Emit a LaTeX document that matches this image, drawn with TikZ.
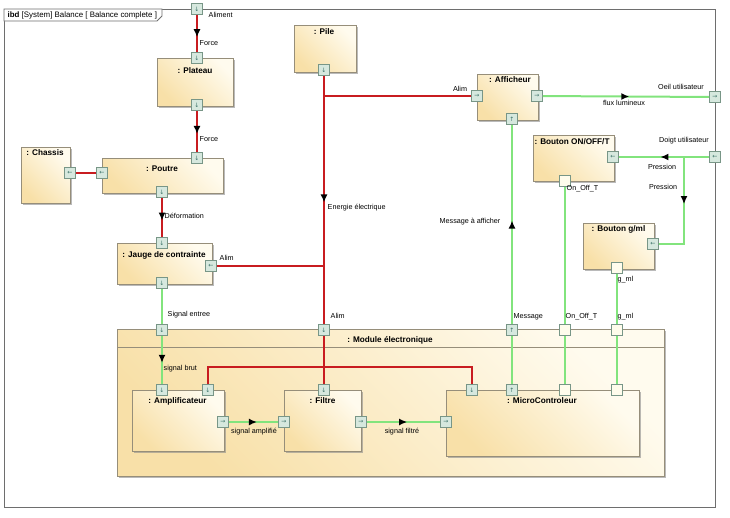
\documentclass[tikz,border=0pt]{standalone}
\usepackage{fontspec}
\setmainfont{Liberation Sans}
\newfontfamily\arrowfont{DejaVu Sans}
\usetikzlibrary{shadows,arrows.meta,decorations.markings}

\definecolor{powerred}{RGB}{200,28,32}
\definecolor{signalgreen}{RGB}{130,228,125}
\definecolor{blocklight}{RGB}{255,251,238}
\definecolor{blockdark}{RGB}{248,224,168}
\definecolor{blockline}{RGB}{150,142,122}
\definecolor{portfill}{RGB}{214,232,222}
\definecolor{portline}{RGB}{120,150,135}
\definecolor{portglyph}{RGB}{60,115,105}
\definecolor{plainport}{RGB}{255,252,236}
\definecolor{frameline}{RGB}{110,110,110}

\begin{document}
\begin{tikzpicture}[x=1pt,y=-1pt,
  lbl/.style={font=\fontsize{7.2}{8.5}\selectfont, inner sep=0.5pt},
  ttl/.style={font=\fontsize{8.2}{9.5}\selectfont\bfseries, inner sep=0pt},
  block/.style={draw=blockline, line width=0.7pt, inner sep=0pt,
    left color=blockdark, right color=blocklight, shading angle=135,
    drop shadow={shadow xshift=1.8pt, shadow yshift=-1.8pt, fill=black!45, opacity=0.6}},
  port/.style={draw=portline, fill=portfill, line width=0.6pt, minimum size=11pt,
    inner sep=0pt, font=\arrowfont\fontsize{6}{6}\selectfont, text=portglyph},
  plain/.style={port, fill=plainport},
  power/.style={draw=powerred, line width=2.3pt},
  sig/.style={draw=signalgreen, line width=2pt},
  flow/.style={postaction={decorate, decoration={markings,
    mark=at position #1 with {\arrow{Latex[length=8pt,width=7pt,color=black]}}}}}]
   \useasboundingbox (0,0) rectangle (730,517);
   % frame and tab
   \draw[frameline, line width=0.8pt] (4,9) rectangle (715,507);
   \draw[frameline, fill=white, line width=0.8pt] (4,9) -- (162,9) -- (162,16) -- (157,21) -- (4,21) -- cycle;
   \node[lbl, font=\fontsize{7.9}{9}\selectfont, anchor=west] (tab) at (7,15) {\textbf{ibd} [System] Balance [ Balance complete ]};
   % blocks
   \begin{scope}[every node/.append style={block}]
    \node[minimum width=76pt, minimum height=48pt] (plateau) at (195.5,82) {};
    \node[minimum width=62pt, minimum height=47pt] (pile) at (325,48.5) {};
    \node[minimum width=49pt, minimum height=56pt] (chassis) at (45.5,175) {};
    \node[minimum width=121pt, minimum height=35pt] (poutre) at (162.5,175.5) {};
    \node[minimum width=95pt, minimum height=41pt] (jauge) at (164.5,263.5) {};
    \node[minimum width=61pt, minimum height=46pt] (afficheur) at (507.5,97) {};
    \node[minimum width=81pt, minimum height=46pt] (onoff) at (573.5,158) {};
    \node[minimum width=71pt, minimum height=46pt] (gml) at (618.5,246) {};
    \node[minimum width=547pt, minimum height=147pt] (module) at (390.5,402.5) {};
    \node[minimum width=92pt, minimum height=61pt] (ampli) at (178,420.5) {};
    \node[minimum width=77pt, minimum height=61pt] (filtre) at (322.5,420.5) {};
    \node[minimum width=193pt, minimum height=66pt] (micro) at (542.5,423) {};
   \end{scope}
   \draw[blockline, line width=0.7pt] (117,347) -- (664,347);
   % block titles
   \begin{scope}[every node/.append style={ttl}]
    \node (plateau-t) at (195,71) {: Plateau};
    \node (pile-t) at (324,32) {: Pile};
    \node (chassis-t) at (45,153) {: Chassis};
    \node (poutre-t) at (162,169) {: Poutre};
    \node (jauge-t) at (164,255) {: Jauge de contrainte};
    \node (afficheur-t) at (510,80) {: Afficheur};
    \node (onoff-t) at (572,142) {: Bouton ON/OFF/T};
    \node (gml-t) at (618.5,229) {: Bouton g/ml};
    \node (module-t) at (390,340) {: Module électronique};
    \node (ampli-t) at (177.5,401) {: Amplificateur};
    \node (filtre-t) at (322.5,401) {: Filtre};
    \node (micro-t) at (542,401) {: MicroControleur};
   \end{scope}
   % ports
   \begin{scope}[every node/.append style={port}]
    \node (al-p) at (197,9) {↓};
    \node (pl-n) at (197,58) {↓};
    \node (pl-s) at (197,105) {↓};
    \node (po-n) at (197,158) {↓};
    \node (po-w) at (102,173) {←};
    \node (ch-e) at (70,173) {←};
    \node (po-s) at (162,192) {↓};
    \node (ja-n) at (162,243) {↓};
    \node (ja-e) at (211,266) {←};
    \node (ja-s) at (162,283) {↓};
    \node (pi-s) at (324,70) {↓};
    \node (af-w) at (477,96) {→};
    \node (af-e) at (537,96) {→};
    \node (af-s) at (512,119) {↑};
    \node (oe-p) at (715,97) {→};
    \node (bo-e) at (613,157) {←};
    \node (do-p) at (715,157) {←};
    \node[plain] (bo-s) at (565,181) {};
    \node (bg-e) at (653,244) {←};
    \node[plain] (bg-s) at (617,268) {};
    \node (mo-sig) at (162,330) {↓};
    \node (mo-al) at (324,330) {↓};
    \node (mo-msg) at (512,330) {↑};
    \node[plain] (mo-oo) at (565,330) {};
    \node[plain] (mo-gm) at (617,330) {};
    \node (am-n1) at (162,390) {↓};
    \node (am-n2) at (208,390) {↓};
    \node (am-e) at (223,422) {→};
    \node (fi-n) at (324,390) {↓};
    \node (fi-w) at (284,422) {→};
    \node (fi-e) at (361,422) {→};
    \node (mc-n1) at (472,390) {↓};
    \node (mc-n2) at (512,390) {↑};
    \node[plain] (mc-n3) at (565,390) {};
    \node[plain] (mc-n4) at (617,390) {};
    \node (mc-w) at (446,422) {→};
   \end{scope}
   % junctions and bends
   \coordinate (jn-af) at (324,96);
   \coordinate (jn-ja) at (324,266);
   \coordinate (bus-w) at (208,367);
   \coordinate (bus-e) at (472,367);
   \coordinate (jn-pr) at (684,157);
   \coordinate (bend-pr) at (684,244);
   % power lines
   \draw[power, flow=0.6] (al-p) -- (pl-n);
   \draw[power, flow=0.56] (pl-s) -- (po-n);
   \draw[power] (ch-e) -- (po-w);
   \draw[power, flow=0.58] (po-s) -- (ja-n);
   \draw[power, flow=0.51] (pi-s) -- (mo-al);
   \draw[power] (jn-af) -- (af-w);
   \draw[power] (ja-e) -- (jn-ja);
   \draw[power] (mo-al) -- (fi-n);
   \draw[power] (am-n2) -- (bus-w) -- (bus-e) -- (mc-n1);
   % signal lines
   \draw[sig] (ja-s) -- (mo-sig);
   \draw[sig, flow=0.56] (mo-sig) -- (am-n1);
   \draw[sig, flow=0.57] (am-e) -- (fi-w);
   \draw[sig, flow=0.55] (fi-e) -- (mc-w);
   \draw[sig] (mc-n2) -- (mo-msg);
   \draw[sig, flow=0.52] (mo-msg) -- (af-s);
   \draw[sig] (bo-s) -- (mo-oo);
   \draw[sig] (mo-oo) -- (mc-n3);
   \draw[sig] (bg-s) -- (mo-gm);
   \draw[sig] (mo-gm) -- (mc-n4);
   \draw[sig, flow=0.52] (af-e) -- (oe-p);
   \draw[sig, flow=0.54] (do-p) -- (bo-e);
   \draw[sig, flow=0.42] (jn-pr) -- (bend-pr) -- (bg-e);
   % labels
   \begin{scope}[every node/.append style={lbl}]
    \node[anchor=west] (l-aliment) at (208,15) {Aliment};
    \node[anchor=west] (l-force1) at (199,43) {Force};
    \node[anchor=west] (l-force2) at (199,139) {Force};
    \node[anchor=west] (l-deform) at (164,216) {Déformation};
    \node[anchor=west] (l-alim1) at (219,258) {Alim};
    \node (l-alim2) at (460,89) {Alim};
    \node[anchor=west] (l-energie) at (327,208) {Energie électrique};
    \node[anchor=west] (l-alim3) at (330,316) {Alim};
    \node[anchor=west] (l-sigin) at (167,315) {Signal entree};
    \node[anchor=west] (l-brut) at (163,369) {signal brut};
    \node (l-ampl) at (254,432) {signal amplifié};
    \node (l-filt) at (402,432) {signal filtré};
    \node (l-msgaff) at (470,222) {Message à afficher};
    \node[anchor=west] (l-msg) at (513,317) {Message};
    \node[anchor=west] (l-oo1) at (566,189) {On\_Off\_T};
    \node[anchor=west] (l-oo2) at (565,317) {On\_Off\_T};
    \node[anchor=west] (l-gml1) at (617,280) {g\_ml};
    \node[anchor=west] (l-gml2) at (617,317) {g\_ml};
    \node (l-flux) at (624,103) {flux lumineux};
    \node (l-oeil) at (681,87) {Oeil utilisateur};
    \node (l-doigt) at (684,141) {Doigt utilisateur};
    \node (l-press1) at (662,167) {Pression};
    \node (l-press2) at (663,187) {Pression};
   \end{scope}
\end{tikzpicture}
\end{document}
